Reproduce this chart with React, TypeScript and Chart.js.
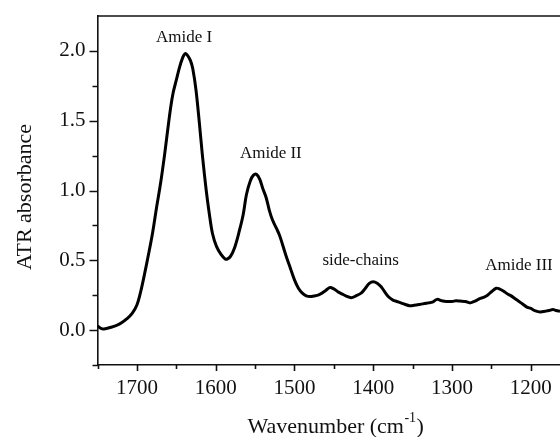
import { useEffect, useRef } from "react";
import { Chart, registerables } from "chart.js";

Chart.register(...registerables);

// ---- Data ----
const wavenumbers = [
  1750, 1745, 1740, 1733, 1725, 1720, 1713, 1706, 1700, 1695, 1690, 1685, 1680, 1675, 1670, 1665,
  1661, 1657, 1654, 1650, 1646, 1642, 1639, 1636, 1632, 1629, 1625, 1621, 1617, 1612, 1608, 1604,
  1599, 1593, 1588, 1585, 1581, 1576, 1570, 1565, 1561, 1556, 1552, 1548, 1544, 1540, 1536, 1532,
  1528, 1523, 1519, 1515, 1510, 1505, 1500, 1495, 1490, 1485, 1480, 1475, 1470, 1465, 1460, 1455,
  1450, 1445, 1440, 1435, 1428, 1422, 1415, 1410, 1405, 1400, 1395, 1390, 1385, 1380, 1375, 1370,
  1365, 1360, 1354, 1348, 1341, 1335, 1330, 1325, 1319, 1313, 1307, 1300, 1295, 1290, 1283, 1277,
  1270, 1265, 1260, 1255, 1250, 1244, 1240, 1235, 1230, 1225, 1220, 1215, 1210, 1205, 1200, 1195,
  1188, 1182, 1177, 1172, 1168, 1163,
];
const absorbance = [
  0.03, 0.01, 0.01, 0.02, 0.035, 0.05, 0.08, 0.12, 0.18, 0.28, 0.41, 0.55, 0.7, 0.88, 1.05, 1.25,
  1.43, 1.6, 1.7, 1.79, 1.88, 1.95, 1.98, 1.97, 1.93, 1.87, 1.72, 1.5, 1.26, 1.0, 0.83, 0.69,
  0.6, 0.54, 0.51, 0.51, 0.53, 0.59, 0.71, 0.83, 0.97, 1.07, 1.11, 1.115, 1.08, 1.01, 0.95, 0.86,
  0.79, 0.73, 0.68, 0.61, 0.52, 0.44, 0.36, 0.3, 0.265, 0.245, 0.24, 0.245, 0.25, 0.265, 0.285, 0.305,
  0.295, 0.275, 0.26, 0.245, 0.232, 0.245, 0.267, 0.3, 0.335, 0.346, 0.335, 0.31, 0.27, 0.235, 0.215, 0.205,
  0.195, 0.185, 0.175, 0.178, 0.184, 0.19, 0.195, 0.2, 0.22, 0.21, 0.205, 0.205, 0.21, 0.208, 0.205, 0.195,
  0.21, 0.225, 0.235, 0.25, 0.275, 0.3, 0.295, 0.28, 0.26, 0.245, 0.225, 0.205, 0.185, 0.165, 0.155, 0.14,
  0.13, 0.135, 0.14, 0.148, 0.14, 0.135,
];

const xMajorTicks = [1700, 1600, 1500, 1400, 1300, 1200];
const xMinorTicks = [1750, 1650, 1550, 1450, 1350, 1250];
const yMajorTicks = [0, 0.5, 1.0, 1.5, 2.0];
const yMinorTicks = [-0.25, 0.25, 0.75, 1.25, 1.75];

const annotationLabels = ["Amide I", "Amide II", "side-chains", "Amide III"];
const annotationWavenumbers = [1640, 1530, 1416, 1215];
const annotationAbsorbance = [2.095, 1.265, 0.496, 0.46];

const xTitle = "Wavenumber (cm";
const xTitleSup = "-1";
const xTitleEnd = ")";
const yTitle = "ATR absorbance";

const FONT = '"Liberation Serif", "Times New Roman", serif';

const decorPlugin = {
  id: "decor",
  afterDraw(chart: any) {
    const ctx = chart.ctx as CanvasRenderingContext2D;
    const { left, right, top, bottom } = chart.chartArea;
    const xs = chart.scales.x;
    const ys = chart.scales.y;
    ctx.save();
    ctx.strokeStyle = "#111";
    ctx.lineWidth = 1.6;
    // top frame line
    ctx.beginPath();
    ctx.moveTo(left, top);
    ctx.lineTo(right, top);
    ctx.stroke();
    // x tick marks
    ctx.beginPath();
    xMajorTicks.forEach((v) => {
      const p = Math.round(xs.getPixelForValue(v)) + 0.5;
      ctx.moveTo(p, bottom);
      ctx.lineTo(p, bottom + 6);
    });
    xMinorTicks.forEach((v) => {
      const p = Math.round(xs.getPixelForValue(v)) + 0.5;
      ctx.moveTo(p, bottom);
      ctx.lineTo(p, bottom + 4);
    });
    // y tick marks
    yMajorTicks.forEach((v) => {
      const p = Math.round(ys.getPixelForValue(v)) + 0.5;
      ctx.moveTo(left, p);
      ctx.lineTo(left - 8, p);
    });
    yMinorTicks.forEach((v) => {
      const p = Math.round(ys.getPixelForValue(v)) + 0.5;
      ctx.moveTo(left, p);
      ctx.lineTo(left - 5, p);
    });
    ctx.stroke();

    // annotations
    ctx.fillStyle = "#111";
    ctx.font = `17px ${FONT}`;
    ctx.textAlign = "center";
    ctx.textBaseline = "middle";
    annotationLabels.forEach((t, i) => {
      ctx.fillText(t, xs.getPixelForValue(annotationWavenumbers[i]), ys.getPixelForValue(annotationAbsorbance[i]));
    });

    // x title with superscript
    const mainFont = `22px ${FONT}`;
    const supFont = `14px ${FONT}`;
    ctx.font = mainFont;
    const w1 = ctx.measureText(xTitle).width;
    ctx.font = supFont;
    const w2 = ctx.measureText(xTitleSup).width;
    const ty = 427;
    let x0 = left + 150;
    ctx.textAlign = "left";
    ctx.textBaseline = "middle";
    ctx.font = mainFont;
    ctx.fillText(xTitle, x0, ty);
    x0 += w1 + 0.5;
    ctx.font = supFont;
    ctx.fillText(xTitleSup, x0, ty - 9);
    x0 += w2 + 0.5;
    ctx.font = mainFont;
    ctx.fillText(xTitleEnd, x0, ty);

    // y title
    ctx.translate(25, 197);
    ctx.rotate(-Math.PI / 2);
    ctx.textAlign = "center";
    ctx.fillText(yTitle, 0, 0);
    ctx.restore();
  },
};

export default function App() {
  const ref = useRef<HTMLCanvasElement | null>(null);
  useEffect(() => {
    document.body.style.margin = "0";
    const canvas = ref.current;
    if (!canvas) return;
    const chart = new Chart(canvas, {
      type: "line",
      data: {
        datasets: [
          {
            data: wavenumbers.map((w, i) => ({ x: w, y: absorbance[i] })),
            borderColor: "#000",
            borderWidth: 3,
            pointRadius: 0,
            tension: 0.35,
            fill: false,
          },
        ],
      },
      options: {
        animation: false,
        responsive: false,
        maintainAspectRatio: false,
        layout: { padding: { top: 16, right: 0, left: 0, bottom: 0 } },
        plugins: { legend: { display: false }, tooltip: { enabled: false } },
        scales: {
          x: {
            type: "linear",
            reverse: true,
            min: 1163,
            max: 1750,
            afterBuildTicks: (s: any) => {
              s.ticks = xMajorTicks.map((v) => ({ value: v }));
            },
            afterFit: (s: any) => {
              s.height = 72;
              s.paddingLeft = 0;
              s.paddingRight = 0;
            },
            grid: { display: false },
            border: { display: true, color: "#111", width: 1.6 },
            ticks: {
              color: "#111",
              font: { family: FONT, size: 21 },
              padding: 3,
              maxRotation: 0,
              autoSkip: false,
              callback: (v: any) => String(v),
            },
          },
          y: {
            min: -0.25,
            max: 2.25,
            afterBuildTicks: (s: any) => {
              s.ticks = yMajorTicks.map((v) => ({ value: v }));
            },
            afterFit: (s: any) => {
              s.width = 97.5;
              s.paddingTop = 0;
              s.paddingBottom = 0;
            },
            grid: { display: false },
            border: { display: true, color: "#111", width: 1.6 },
            ticks: {
              color: "#111",
              font: { family: FONT, size: 21 },
              padding: 4,
              callback: (v: any) => Number(v).toFixed(1),
            },
          },
        },
      },
      plugins: [decorPlugin],
    });
    return () => chart.destroy();
  }, []);
  return <canvas ref={ref} width={560} height={437} style={{ display: "block" }} />;
}
